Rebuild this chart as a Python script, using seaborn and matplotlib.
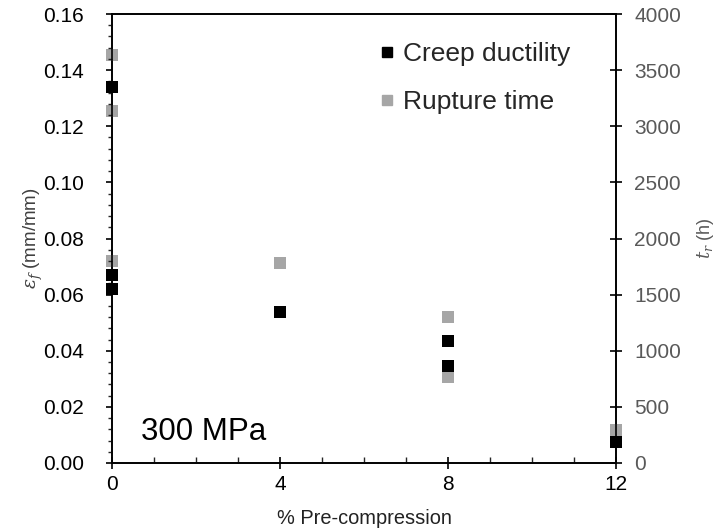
import matplotlib
matplotlib.use("Agg")
import matplotlib.pyplot as plt
from matplotlib.lines import Line2D
from matplotlib.ticker import MultipleLocator, NullLocator, FormatStrFormatter
import seaborn as sns
import pandas as pd

# Data
ductility_x = [0, 0, 0, 4, 8, 8, 12]
ductility_y = [0.1341, 0.0670, 0.0620, 0.0537, 0.0435, 0.0346, 0.0074]
rupture_x = [0, 0, 0, 4, 8, 8, 12]
rupture_y = [3632, 3136, 1800, 1779, 1298, 769, 294]
x_ticks = [0, 4, 8, 12]

sns.set_theme(style="white")
plt.rcParams['font.family'] = ['Liberation Sans', 'DejaVu Sans']
plt.rcParams['mathtext.fontset'] = 'dejavuserif'

fig = plt.figure(figsize=(7.19, 5.32), dpi=100)
ax = fig.add_axes([112/719, 1 - 463/532, (616-112)/719, (463-14)/532])
ax2 = ax.twinx()

df1 = pd.DataFrame({"x": ductility_x, "y": ductility_y})
df2 = pd.DataFrame({"x": rupture_x, "y": rupture_y})

sns.scatterplot(data=df2, x="x", y="y", ax=ax2, marker="s", s=75,
                color="#A6A6A6", linewidth=0, zorder=3, clip_on=False)
sns.scatterplot(data=df1, x="x", y="y", ax=ax, marker="s", s=75,
                color="black", linewidth=0, zorder=4, clip_on=False)
ax.set_zorder(ax2.get_zorder() + 1)
ax.patch.set_visible(False)

ax.set_xlim(0, 12)
ax.set_ylim(0, 0.16)
ax2.set_ylim(0, 4000)
ax.set_xticks(x_ticks)
ax.xaxis.set_minor_locator(MultipleLocator(1))
ax.yaxis.set_major_locator(MultipleLocator(0.02))
ax.yaxis.set_minor_locator(MultipleLocator(0.004))
ax.yaxis.set_major_formatter(FormatStrFormatter('%.2f'))
ax2.yaxis.set_major_locator(MultipleLocator(500))
ax2.yaxis.set_minor_locator(NullLocator())

for a in (ax, ax2):
    for s in a.spines.values():
        s.set_color("black")
        s.set_linewidth(1.2)

ax.tick_params(axis='x', which='major', direction='inout', length=8, width=1.2,
               labelsize=15, colors='black', pad=5, bottom=True, top=False)
ax.tick_params(axis='x', which='minor', direction='in', length=4, width=1, bottom=True, top=False)
ax.tick_params(axis='y', which='major', direction='out', length=4, width=1.2,
               labelsize=15, colors='black', left=True, right=False, pad=16)
ax.tick_params(axis='y', which='minor', direction='out', length=3, width=1, left=True, right=False)
ax2.tick_params(axis='y', which='major', direction='inout', length=8, width=1.2,
                labelsize=15, labelcolor='#595959', color='black', right=True, left=False, pad=9)
ax2.tick_params(axis='y', which='minor', right=False, left=False)

ax.set_xlabel("% Pre-compression", fontsize=14.4, color='#222222', labelpad=10.5)
ax.set_ylabel(r"$\varepsilon_f$ (mm/mm)", fontsize=13.5, color='#404040', labelpad=-1)
ax2.set_ylabel(r"$t_r$ (h)", fontsize=13, color='#595959', labelpad=10)
ax2.set_xlabel("")

ax.text(0.057, 0.035, "300 MPa", transform=ax.transAxes, fontsize=22.5,
        color='black', ha='left', va='bottom')

handles = [
    Line2D([], [], marker='s', linestyle='none', color='black', markersize=7),
    Line2D([], [], marker='s', linestyle='none', color='#A6A6A6', markersize=7),
]
ax.legend(handles, ["Creep ductility", "Rupture time"], loc='upper left',
          bbox_to_anchor=(0.468, 0.99), frameon=False, fontsize=19,
          handletextpad=0.0, handlelength=1.2, labelspacing=0.9)

fig.savefig("out.png", dpi=100)
